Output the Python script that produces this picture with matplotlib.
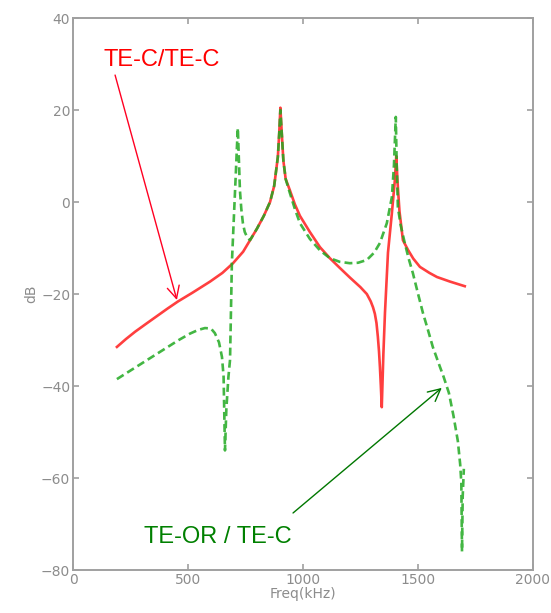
import matplotlib

matplotlib.use("Agg")
import matplotlib.pyplot as plt

# TE-C / TE-C response (red, solid)
red_freq = [191, 230, 270, 320, 365, 410, 457, 520, 596, 650, 696, 740, 770,
            800, 830, 857, 875, 891, 897, 902, 908, 915, 925, 943, 965, 987,
            1030, 1074, 1117, 1160, 1204, 1250, 1278, 1295, 1305, 1313,
            1320, 1326, 1331, 1335, 1339, 1343, 1350, 1357, 1370, 1387, 1400,
            1406, 1412, 1420, 1435, 1457, 1480, 1509, 1550, 1583, 1640, 1704]
red_db = [-31.5, -29.8, -28.2, -26.4, -24.8, -23.2, -21.6, -19.7, -17.3, -15.4,
          -13.3, -10.8, -8.3, -5.8, -3.0, 0.0, 3.5, 9.8, 15.0, 20.5, 15.0, 9.0,
          5.0, 2.6, -0.5, -3.0, -6.5, -9.8, -12.2, -14.3, -16.4, -18.5,
          -20.0, -21.6, -22.9, -24.3, -26.3, -29.3, -32.5, -35.9, -40.0, -44.6,
          -33.0, -24.0, -11.0, -2.4, 4.8, 10.0, 4.0, -2.0, -8.3, -10.4, -12.3,
          -14.1, -15.4, -16.3, -17.3, -18.3]

# TE-OR / TE-C response (green, dashed)
green_freq = [191, 270, 365, 460, 509, 545, 574, 600, 617, 635,
              648, 655, 661, 667, 676, 683, 691, 700, 708, 713, 717, 721, 726,
              732, 739, 747, 757, 770, 800, 830, 857, 875, 891, 897, 902, 908,
              915, 925, 943, 965, 987, 1030, 1074, 1117, 1160, 1204, 1240, 1278,
              1310, 1335, 1365, 1387, 1396, 1404, 1408, 1413, 1425, 1443, 1460,
              1478, 1500, 1522, 1545, 1565, 1590, 1612, 1635, 1655, 1674, 1684,
              1689, 1692, 1695, 1700]
green_db = [-38.5, -36.0, -33.0, -30.0, -28.6, -27.8, -27.4, -27.5,
            -28.5, -30.5, -33.7, -38.0, -54.0, -45.0, -38.0, -34.3, -13.3,
            -3.0, 6.0, 12.0, 16.1, 10.0, 2.6, -1.5, -4.6, -6.5, -7.6, -8.3, -5.8,
            -3.0, 0.0, 3.5, 9.8, 15.0, 20.0, 15.0, 9.0, 5.0, 2.0, -1.5, -4.6,
            -8.0, -10.5, -12.2, -13.0, -13.3, -13.2, -12.6, -11.0, -8.9, -4.6,
            1.1, 8.0, 18.5, 8.0, -1.1, -5.0, -8.9, -12.3, -15.4, -19.8, -24.1,
            -28.0, -31.5, -35.0, -38.0, -41.5, -46.5, -52.0, -57.0, -61.0,
            -76.0, -64.0, -58.0]

x_ticks = [0, 500, 1000, 1500, 2000]
y_ticks = [-80, -60, -40, -20, 0, 20, 40]

fig = plt.figure(figsize=(5.51, 6.13), dpi=100)
ax = fig.add_axes([0.1325, 0.0701, 0.8345, 0.9005])

ax.plot(red_freq, red_db, color="#ff2a2a", linewidth=1.9, alpha=0.9, zorder=2)
ax.plot(green_freq, green_db, color="#22aa22", linewidth=1.9, alpha=0.85,
        linestyle=(0, (3.0, 1.6)), zorder=3)

ax.set_xlim(0, 2000)
ax.set_ylim(-80, 40)
ax.set_xticks(x_ticks)
ax.set_yticks(y_ticks)

gray = "#8c8c8c"
for spine in ax.spines.values():
    spine.set_color("#a0a0a0")
    spine.set_linewidth(1.4)
ax.tick_params(direction="in", length=4, width=1.2, color="#a0a0a0",
               labelcolor=gray, labelsize=10, top=True, right=True, pad=2)
ax.set_xlabel("Freq(kHz)", color=gray, fontsize=10, labelpad=0)
ax.set_ylabel("dB", color=gray, fontsize=10, labelpad=2)

# labels and their pointer arrows
ax.text(386, 30.9, "TE-C/TE-C", color="#ff0000", fontsize=17,
        family="Liberation Sans", ha="center", va="center")
ax.annotate("", xy=(452, -21.3), xytext=(183, 27.6),
            arrowprops=dict(arrowstyle="->", color="#ff0022", lw=1.0,
                            shrinkA=0, shrinkB=0, mutation_scale=22))

ax.text(630, -72.8, "TE-OR / TE-C", color="#008000", fontsize=17,
        family="Liberation Sans", ha="center", va="center")
ax.annotate("", xy=(1604, -40.4), xytext=(957, -67.6),
            arrowprops=dict(arrowstyle="->", color="#007700", lw=1.0,
                            shrinkA=0, shrinkB=0, mutation_scale=22))

fig.savefig("out.png", dpi=100)
plt.close(fig)
